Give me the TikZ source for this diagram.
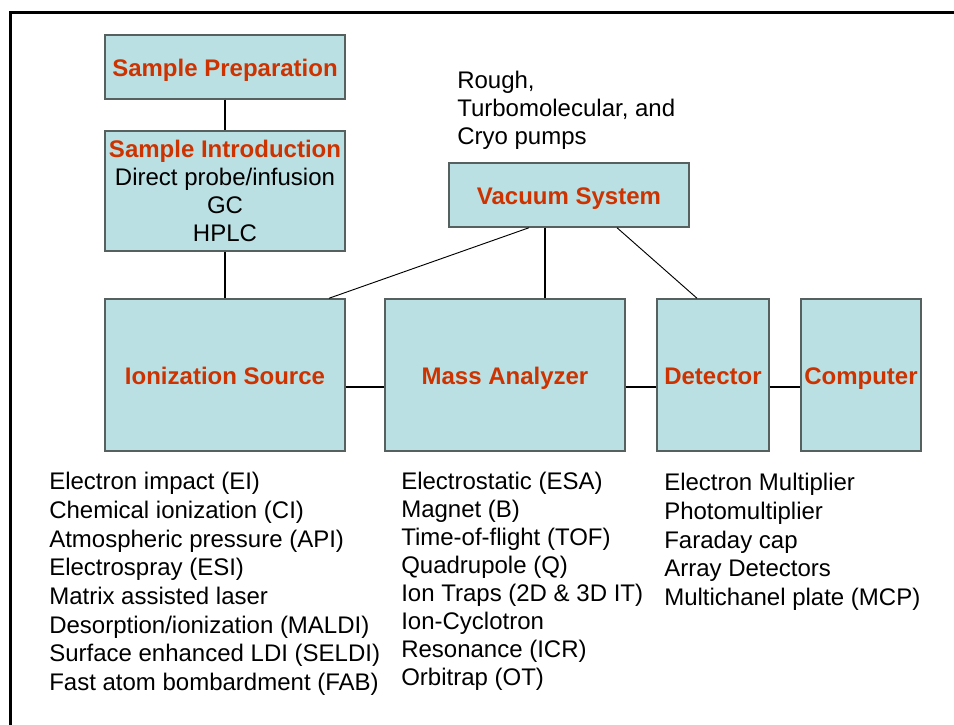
\documentclass[tikz,border=0pt]{standalone}
\usepackage{fontspec}
\setmainfont{Liberation Sans}
\definecolor{boxfill}{HTML}{BBE0E3}
\definecolor{boxline}{HTML}{56605F}
\definecolor{titlered}{HTML}{CC3300}
\begin{document}
\begin{tikzpicture}[x=0.75pt,y=-0.75pt,
  box/.style={draw=boxline,line width=1.1pt,fill=boxfill,rectangle,inner sep=0pt,align=center,
    font=\fontsize{18}{21}\selectfont},
  onel/.style={text height=16pt,text depth=1.6pt},
  thick conn/.style={draw=black,line width=1.5pt},
  thin conn/.style={draw=black,line width=0.7pt},
  lst/.style={align=left,anchor=west,inner sep=0pt,font=\fontsize{18}{21}\selectfont},
  widelst/.style={lst,font=\fontsize{18}{21.5}\selectfont}]
\useasboundingbox (0,0) rectangle (954,725);
\begin{scope}
\clip (0,0) rectangle (954,725);
\draw[line width=1.6pt] (10.5,760) -- (10.5,12.5) -- (990,12.5);
\end{scope}
% boxes
\node[box,onel,minimum width=180pt,minimum height=48pt] (sp) at (225,67)
  {\textcolor{titlered}{\bfseries Sample Preparation}};
\node[box,minimum width=180pt,minimum height=90pt] (si) at (225,191)
  {\textcolor{titlered}{\bfseries Sample Introduction}\\Direct probe/infusion\\GC\\HPLC};
\node[box,onel,minimum width=180pt,minimum height=48pt] (vs) at (569,195)
  {\textcolor{titlered}{\bfseries Vacuum System}};
\node[box,onel,minimum width=180pt,minimum height=114pt] (is) at (225,375)
  {\textcolor{titlered}{\bfseries Ionization Source}};
\node[box,onel,minimum width=180pt,minimum height=114pt] (ma) at (505,375)
  {\textcolor{titlered}{\bfseries Mass Analyzer}};
\node[box,onel,minimum width=84pt,minimum height=114pt] (de) at (713,375)
  {\textcolor{titlered}{\bfseries Detector}};
\node[box,onel,minimum width=90pt,minimum height=114pt] (co) at (861,375)
  {\textcolor{titlered}{\bfseries Computer}};
% connectors
\draw[thick conn] (sp.south) -- (si.north);
\draw[thick conn] (si.south) -- (is.north);
\draw[thick conn] ([xshift=-18pt]vs.south) -- ([xshift=-18pt]vs.south |- ma.north);
\draw[thin conn] ([xshift=-30pt]vs.south) -- ([xshift=78pt]is.north);
\draw[thin conn] ([xshift=36pt]vs.south) -- ([xshift=-12pt]de.north);
\draw[thick conn] ([yshift=-9pt]is.east) -- ([yshift=-9pt]ma.west);
\draw[thick conn] ([yshift=-9pt]ma.east) -- ([yshift=-9pt]de.west);
\draw[thick conn] ([yshift=-9pt]de.east) -- ([yshift=-9pt]co.west);
% lists
\node[lst] (pumps) at (457,110.5) {Rough,\\Turbomolecular, and\\Cryo pumps};
\node[widelst] (ionlist) at (49,584) {Electron impact (EI)\\Chemical ionization (CI)\\Atmospheric pressure (API)\\Electrospray (ESI)\\Matrix assisted laser\\Desorption/ionization (MALDI)\\Surface enhanced LDI (SELDI)\\Fast atom bombardment (FAB)};
\node[lst] (malist) at (401,581.5) {Electrostatic (ESA)\\Magnet (B)\\Time-of-flight (TOF)\\Quadrupole (Q)\\Ion Traps (2D \& 3D IT)\\Ion-Cyclotron\\Resonance (ICR)\\Orbitrap (OT)};
\node[widelst] (delist) at (664,542) {Electron Multiplier\\Photomultiplier\\Faraday cap\\Array Detectors\\Multichanel plate (MCP)};
\end{tikzpicture}
\end{document}
